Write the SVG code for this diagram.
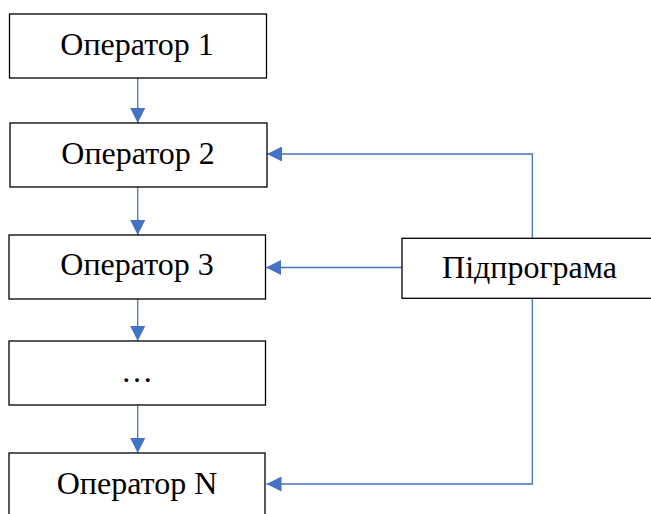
<svg xmlns="http://www.w3.org/2000/svg" width="651" height="514" viewBox="0 0 651 514">
<style>
.box{fill:#fff;stroke:#000;stroke-width:1.3}
.lbl{font-family:"Liberation Serif","Times New Roman",serif;font-size:32px;fill:#000;text-anchor:middle}
.con{fill:none;stroke:#4472C4;stroke-width:1.3}
</style>
<defs>
<marker id="ah" viewBox="0 0 15 15" refX="15" refY="7.5" markerWidth="15" markerHeight="15" markerUnits="userSpaceOnUse" orient="auto">
<path d="M0,0 L15,7.5 L0,15 Z" fill="#4472C4"/>
</marker>
</defs>
<rect width="651" height="514" fill="#fff"/>
<g id="connectors">
<line class="con" x1="137.7" y1="78" x2="137.7" y2="123" marker-end="url(#ah)"/>
<line class="con" x1="137.7" y1="187" x2="137.7" y2="235" marker-end="url(#ah)"/>
<line class="con" x1="137.7" y1="299" x2="137.7" y2="341" marker-end="url(#ah)"/>
<line class="con" x1="137.7" y1="405" x2="137.7" y2="453" marker-end="url(#ah)"/>
<polyline class="con" points="532.3,238 532.3,154 267,154" marker-end="url(#ah)"/>
<line class="con" x1="402" y1="267.5" x2="266" y2="267.5" marker-end="url(#ah)"/>
<polyline class="con" points="532.3,298 532.3,484 266.5,484" marker-end="url(#ah)"/>
</g>
<g id="op1"><rect class="box" x="9.5" y="14" width="257" height="64"/><text class="lbl" x="137" y="55">Оператор 1</text></g>
<g id="op2"><rect class="box" x="10" y="123" width="257" height="64"/><text class="lbl" x="138" y="164">Оператор 2</text></g>
<g id="op3"><rect class="box" x="9" y="235" width="256.5" height="64"/><text class="lbl" x="137" y="275">Оператор 3</text></g>
<g id="opdots"><rect class="box" x="9" y="341" width="256.5" height="64"/><text class="lbl" x="137" y="382">…</text></g>
<g id="opN"><rect class="box" x="9" y="453" width="256" height="64"/><text class="lbl" x="137" y="494">Оператор N</text></g>
<g id="sub"><rect class="box" x="402" y="238.3" width="260" height="60"/><text class="lbl" x="529.5" y="278">Підпрограма</text></g>
</svg>
